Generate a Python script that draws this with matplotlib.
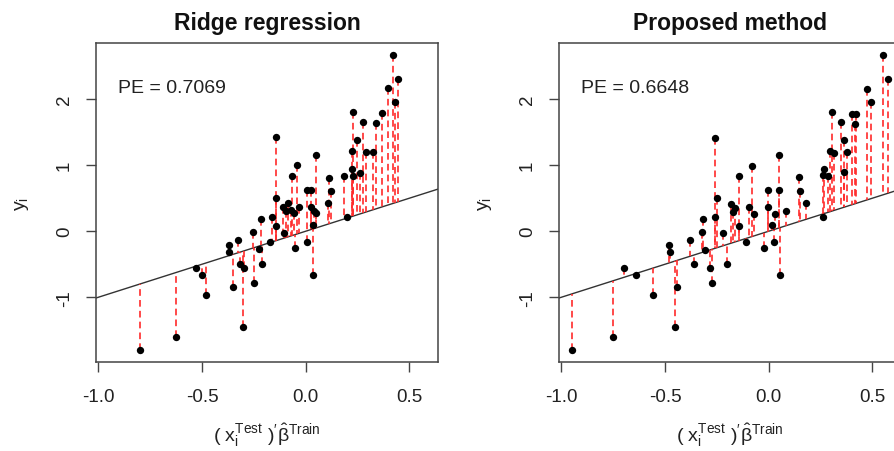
import matplotlib
matplotlib.use("Agg")
import matplotlib.pyplot as plt
import numpy as np

plt.rcParams['font.family'] = ['Liberation Sans', 'DejaVu Sans']
plt.rcParams['mathtext.fontset'] = 'custom'
plt.rcParams['mathtext.rm'] = 'Liberation Sans'
plt.rcParams['mathtext.it'] = 'Liberation Sans'
plt.rcParams['mathtext.bf'] = 'Liberation Sans:bold'

titles = ["Ridge regression", "Proposed method"]
pe_labels = ["PE = 0.7069", "PE = 0.6648"]
xticks = [-1.0, -0.5, 0.0, 0.5]
xtick_labels = ["-1.0", "-0.5", "0.0", "0.5"]
yticks = [-1, 0, 1, 2]
ytick_labels = ["-1", "0", "1", "2"]

x_ridge = [-0.799, -0.623, -0.531, -0.502, -0.480, -0.368, -0.368, -0.352, -0.328, -0.317,
           -0.295, -0.301, -0.254, -0.249, -0.225, -0.214, -0.209, -0.174, -0.163, -0.145,
           -0.105, -0.053, 0.006, 0.035, 0.035, 0.198, -0.142, 0.051, -0.040, -0.065,
           0.113, 0.187, 0.225, 0.225, 0.006, 0.025, 0.121, -0.142, -0.085, -0.109,
           -0.097, -0.070, -0.054, -0.033, 0.027, 0.038, 0.049, 0.107, 0.423, 0.445,
           0.399, 0.432, 0.228, 0.368, 0.276, 0.341, 0.249, 0.289, 0.324, 0.230, 0.260]
y_ridge = [-1.80, -1.60, -0.56, -0.67, -0.965, -0.21, -0.32, -0.85, -0.14, -0.50,
           -0.56, -1.45, -0.01, -0.78, -0.27, 0.19, -0.50, -0.17, 0.21, 0.08,
           -0.02, -0.25, -0.16, -0.67, 0.10, 0.21, 1.42, 1.16, 1.00, 0.83,
           0.81, 0.84, 1.21, 0.94, 0.63, 0.63, 0.61, 0.50, 0.42, 0.36,
           0.31, 0.32, 0.27, 0.36, 0.37, 0.31, 0.27, 0.43, 2.67, 2.31,
           2.17, 1.96, 1.81, 1.79, 1.66, 1.64, 1.38, 1.20, 1.20, 0.84, 0.88]

x_prop = [-0.950, -0.753, -0.700, -0.641, -0.556, -0.481, -0.476, -0.441, -0.452, -0.377,
          -0.361, -0.284, -0.273, -0.321, -0.308, -0.316, -0.260, -0.220, -0.200, -0.184,
          -0.144, -0.109, -0.093, -0.072, -0.021, -0.005, 0.016, 0.026, 0.032, 0.053,
          0.083, 0.181, 0.261, 0.553, 0.577, 0.473, 0.494, 0.304, 0.401, 0.420,
          0.349, 0.417, 0.361, 0.297, 0.317, 0.376, 0.269, 0.365, 0.260, 0.285,
          -0.260, 0.048, -0.080, -0.144, 0.147, 0.152, -0.003, 0.051, -0.248, -0.160, -0.172]
y_prop = [-1.80, -1.60, -0.56, -0.67, -0.965, -0.21, -0.32, -0.85, -1.45, -0.14,
          -0.50, -0.56, -0.78, -0.01, -0.28, 0.19, 0.21, -0.03, -0.50, 0.41,
          0.08, -0.17, 0.36, 0.26, -0.25, 0.37, 0.10, -0.16, 0.26, -0.67,
          0.31, 0.42, 0.21, 2.67, 2.31, 2.16, 1.96, 1.81, 1.77, 1.78,
          1.66, 1.63, 1.38, 1.22, 1.19, 1.20, 0.94, 0.89, 0.85, 0.84,
          1.41, 1.16, 0.99, 0.84, 0.82, 0.61, 0.63, 0.63, 0.50, 0.35, 0.29]

W, H = 894, 452
fig = plt.figure(figsize=(W / 100, H / 100), dpi=100)

ax_w = 342 / W
ax_h = (363 - 44) / H
ax_b = 1 - 363 / H
lefts = [96 / W, 559 / W]
datasets = [(x_ridge, y_ridge), (x_prop, y_prop)]

txt_col = '#222222'
for i, (xs, ys) in enumerate(datasets):
    ax = fig.add_axes([lefts[i], ax_b, ax_w, ax_h])
    xs = np.asarray(xs)
    ys = np.asarray(ys)
    ax.axline((0, 0), slope=1, color='#333333', lw=1.0, zorder=2)
    ax.vlines(xs, ys, xs, colors='#ff2a2a', linestyles=(0, (4, 2.5)), lw=1.2, zorder=3)
    ax.scatter(xs, ys, s=28, c='black', zorder=4, linewidths=0)
    ax.set_xlim(-1.011, 0.638)
    ax.set_ylim(-1.98, 2.85)
    ax.set_xticks(xticks)
    ax.set_xticklabels(xtick_labels, fontsize=13.5, color=txt_col)
    ax.set_yticks(yticks)
    ax.set_yticklabels(ytick_labels, fontsize=13.5, color=txt_col, rotation=90, va='center')
    ax.tick_params(axis='x', length=7.5, width=1, color='#444444', pad=11)
    ax.tick_params(axis='y', length=7.5, width=1, color='#444444', pad=9)
    for sp in ax.spines.values():
        sp.set_color('#444444')
        sp.set_linewidth(1.1)
    ax.set_title(titles[i], fontsize=16.5, fontweight='bold', pad=10, color='#111111')
    ax.text(0.065, 0.86, pe_labels[i], transform=ax.transAxes, fontsize=14,
            color=txt_col, va='center', ha='left')
    ax.set_ylabel(r'$\mathregular{y_i}$', fontsize=14, color=txt_col, labelpad=18)
    ax.set_xlabel(r"$\mathregular{(\ x_i^{Test}\ )'\hat{\beta}^{Train}}$", fontsize=14,
                  color=txt_col, labelpad=12)

fig.savefig('out.png', dpi=100)
